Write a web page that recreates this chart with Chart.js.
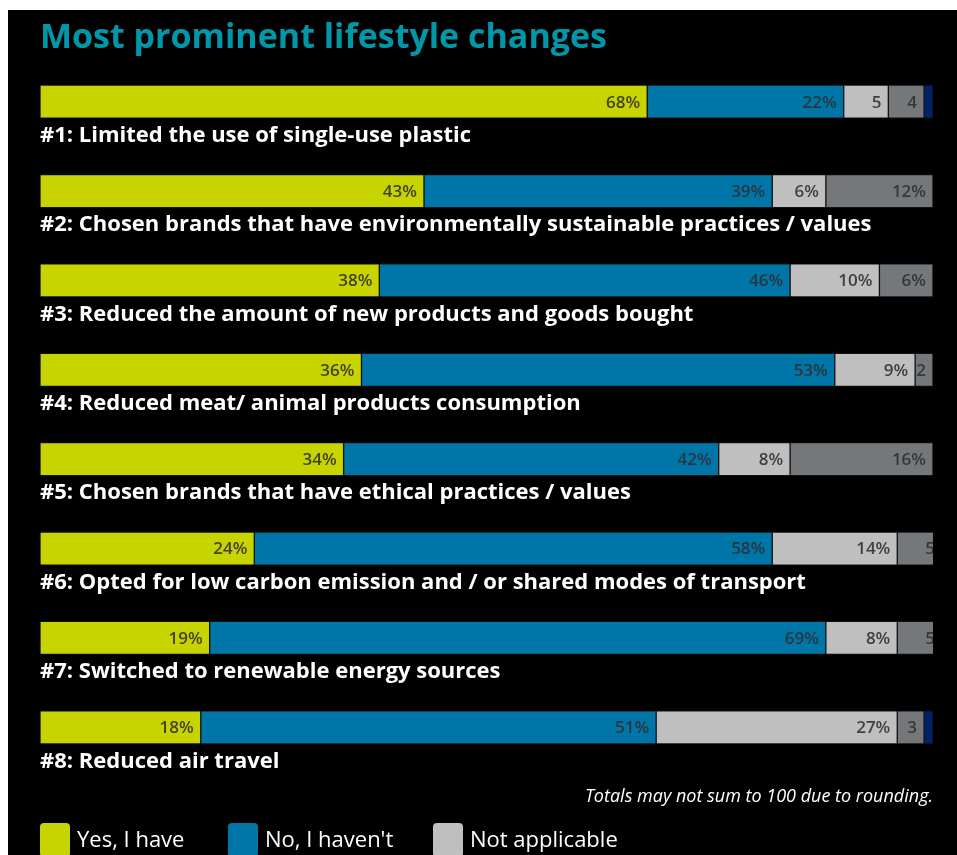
<!DOCTYPE html>
<html>
<head>
<meta charset="utf-8">
<script src="https://cdn.jsdelivr.net/npm/chart.js@4"></script>
<style>
  html, body { margin: 0; padding: 0; background: #fff; overflow: hidden; }
  #wrap { position: absolute; left: 8px; top: 10px; width: 949px; height: 860px; background: #000; }
</style>
</head>
<body>
<div id="wrap"><canvas id="lifestyleChart"></canvas></div>
<script>
const categories = [
    '#1: Limited the use of single-use plastic',
    '#2: Chosen brands that have environmentally sustainable practices / values',
    '#3: Reduced the amount of new products and goods bought',
    '#4: Reduced meat/ animal products consumption',
    '#5: Chosen brands that have ethical practices / values',
    '#6: Opted for low carbon emission and / or shared modes of transport',
    '#7: Switched to renewable energy sources',
    '#8: Reduced air travel'
];
const yesValues = [68, 43, 38, 36, 34, 24, 19, 18];
const noValues = [22, 39, 46, 53, 42, 58, 69, 51];
const naValues = [5, 6, 10, 9, 8, 14, 8, 27];
const dontKnowValues = [4, 12, 6, 2, 16, 5, 5, 3];
const otherValues = [1, 0, 0, 0, 0, 0, 0, 1];

const seriesNames = ['Yes, I have', "No, I haven't", 'Not applicable', "Don't know", 'Prefer not to say'];
const seriesColors = ['#c8d400', '#0076a8', '#bfbfbf', '#75787b', '#012169'];
const legendCount = 3;

const FONT = "'Open Sans', 'DejaVu Sans', sans-serif";

// value labels, row captions, title, footnote and legend
const annotations = {
    id: 'annotations',
    afterDatasetsDraw(chart) {
        const ctx = chart.ctx;
        const area = chart.chartArea;
        ctx.save();
        ctx.beginPath();
        ctx.rect(area.left, area.top - 20, area.right - area.left, area.bottom - area.top + 40);
        ctx.clip();
        ctx.font = '600 17px ' + FONT;
        ctx.textAlign = 'right';
        ctx.textBaseline = 'middle';
        ctx.fillStyle = 'rgba(45, 45, 45, 0.88)';
        for (let d = 0; d < 4; d++) {
            const meta = chart.getDatasetMeta(d);
            const values = chart.data.datasets[d].data;
            meta.data.forEach((bar, i) => {
                const v = values[i];
                if (!v) return;
                const text = v < 6 ? String(v) : v + '%';
                ctx.fillText(text, bar.x - 7, bar.y + 1);
            });
        }
        ctx.restore();

        // captions under each bar
        ctx.save();
        ctx.font = 'bold 22px ' + FONT;
        ctx.fillStyle = '#ffffff';
        ctx.textAlign = 'left';
        ctx.textBaseline = 'middle';
        const first = chart.getDatasetMeta(0);
        first.data.forEach((bar, i) => {
            ctx.fillText(chart.data.labels[i], area.left, bar.y + 34);
        });
        ctx.restore();
    },
    afterDraw(chart) {
        const ctx = chart.ctx;
        const area = chart.chartArea;
        ctx.save();
        ctx.textAlign = 'left';
        ctx.textBaseline = 'middle';
        ctx.fillStyle = '#0097a9';
        ctx.font = 'bold 34px ' + FONT;
        ctx.fillText('Most prominent lifestyle changes', area.left, 28);

        ctx.font = 'italic 18px ' + FONT;
        ctx.fillStyle = '#ffffff';
        ctx.textAlign = 'right';
        ctx.fillText('Totals may not sum to 100 due to rounding.', area.right, 787);

        // legend
        ctx.textAlign = 'left';
        ctx.font = '22px ' + FONT;
        const starts = [area.left, area.left + 188, area.left + 393];
        for (let d = 0; d < legendCount; d++) {
            const x = starts[d];
            ctx.fillStyle = chart.data.datasets[d].backgroundColor;
            ctx.beginPath();
            ctx.roundRect(x, 813, 30, 34, 4);
            ctx.fill();
            ctx.fillStyle = '#ffffff';
            ctx.fillText(chart.data.datasets[d].label, x + 37, 831);
        }
        ctx.restore();
    }
};

const datasets = [yesValues, noValues, naValues, dontKnowValues, otherValues].map((values, d) => ({
    label: seriesNames[d],
    data: values,
    backgroundColor: seriesColors[d],
    borderColor: 'rgba(30, 30, 30, 0.6)',
    borderWidth: 1,
    borderSkipped: false,
    barThickness: 33
}));

const ctx = document.getElementById('lifestyleChart').getContext('2d');
new Chart(ctx, {
    type: 'bar',
    data: { labels: categories, datasets: datasets },
    options: {
        indexAxis: 'y',
        responsive: true,
        maintainAspectRatio: false,
        animation: false,
        layout: { padding: { left: 32, right: 24, top: 47, bottom: 98 } },
        scales: {
            x: { stacked: true, min: 0, max: 100, display: false },
            y: { stacked: true, display: false }
        },
        plugins: {
            legend: { display: false },
            tooltip: { enabled: false }
        }
    },
    plugins: [annotations]
});
</script>
</body>
</html>
